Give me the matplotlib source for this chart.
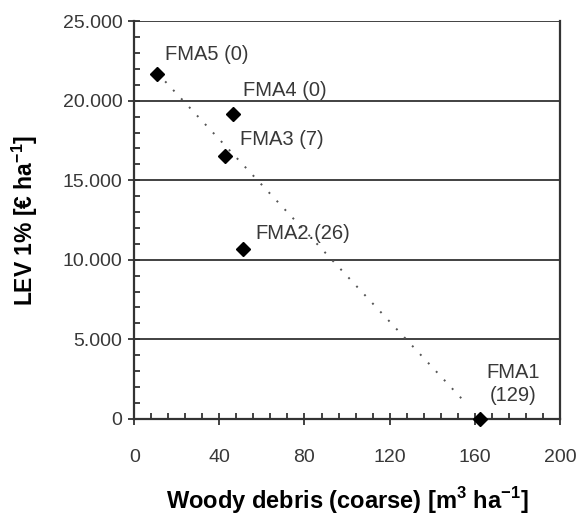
import numpy as np
import matplotlib
matplotlib.use('Agg')
import matplotlib.pyplot as plt
from matplotlib.ticker import MultipleLocator, FuncFormatter

plt.rcParams['font.family'] = ['Liberation Sans', 'DejaVu Sans']
plt.rcParams['mathtext.fontset'] = 'custom'
plt.rcParams['mathtext.rm'] = 'Liberation Sans'
plt.rcParams['mathtext.bf'] = 'Liberation Sans:bold'

# Data
fma_names = ['FMA5 (0)', 'FMA4 (0)', 'FMA3 (7)', 'FMA2.(26)', 'FMA1\n(129)']
woody_debris = [10.8, 46.5, 42.7, 51.2, 162.4]
lev_1pct = [21700, 19150, 16500, 10700, 0]

# dotted trend line end points
trend_x = [10.8, 155]
trend_y = [21750, 1100]

# label offsets (data units)
label_dx = [3.8, 4.7, 7.1, 5.6, 15.6]
label_dy = [1230, 1515, 1090, 950, 2200]
label_ha = ['left', 'left', 'left', 'left', 'center']

GRID = '#333333'
TXT = '#383838'

fig = plt.figure(figsize=(5.76, 5.17), dpi=100)
ax = fig.add_axes([0.233, 0.19, 0.739, 0.769])

for y in range(5000, 25001, 5000):
    ax.axhline(y, color=GRID, lw=1.3, zorder=1)

ax.plot(trend_x, trend_y, ls=(0, (1, 5)), color='#555555', lw=1.4, zorder=2)
ax.plot(woody_debris, lev_1pct, ls='none', marker='D', ms=7.5, color='black',
        clip_on=False, zorder=3)

for name, x, y, dx, dy, ha in zip(fma_names, woody_debris, lev_1pct, label_dx, label_dy, label_ha):
    ax.text(x + dx, y + dy, name, ha=ha, va='center', fontsize=14.5, color=TXT,
            linespacing=1.3)

ax.set_xlim(0, 200)
ax.set_ylim(0, 25000)
ax.xaxis.set_major_locator(MultipleLocator(40))
ax.xaxis.set_minor_locator(MultipleLocator(8))
ax.yaxis.set_major_locator(MultipleLocator(5000))
ax.yaxis.set_minor_locator(MultipleLocator(1000))
ax.yaxis.set_major_formatter(FuncFormatter(lambda v, p: f'{int(v):,}'.replace(',', '.')))

ax.tick_params(which='major', direction='inout', length=9, width=1.3, color=GRID,
               labelsize=14, labelcolor=TXT)
ax.tick_params(axis='x', which='major', pad=17)
ax.tick_params(axis='y', which='major', pad=4)
ax.tick_params(which='minor', direction='in', length=4, width=1.3, color=GRID)

for s in ['left', 'bottom', 'right']:
    ax.spines[s].set_color(GRID)
    ax.spines[s].set_linewidth(1.6)
ax.spines['top'].set_visible(False)
ax.spines['right'].set_bounds(0, 25000)

ax.set_xlabel(r'Woody debris (coarse) [m$^{\mathbf{3}}$ ha$^{\mathbf{-1}}$]',
              fontsize=17, fontweight='bold', labelpad=14)
ax.set_ylabel(r'LEV 1% [€ ha$^{\mathbf{-1}}$]', fontsize=16.5, fontweight='bold', labelpad=16)

fig.savefig('out.png', dpi=100)
